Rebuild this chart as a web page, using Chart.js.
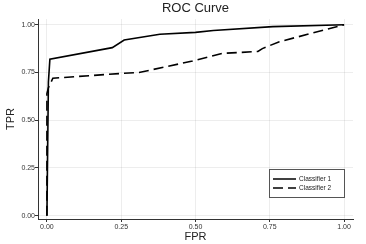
<!DOCTYPE html>
<html>
<head>
<meta charset="utf-8">
<script src="https://cdn.jsdelivr.net/npm/chart.js@4.4.1/dist/chart.umd.min.js"></script>
<style>
  html, body { margin: 0; padding: 0; background: #fff; }
  #wrap { width: 366px; height: 244px; }
</style>
</head>
<body>
<div id="wrap"><canvas id="roc" width="366" height="244"></canvas></div>
<script>
// values
const fpr1 = [0, 0.005, 0.01, 0.22, 0.26, 0.38, 0.5, 0.56, 0.76, 1.0];
const tpr1 = [0, 0.70, 0.82, 0.88, 0.92, 0.95, 0.96, 0.97, 0.99, 1.0];
const fpr2 = [0, 0, 0.005, 0.02, 0.25, 0.31, 0.49, 0.59, 0.71, 0.725, 0.78, 1.0];
const tpr2 = [0, 0.64, 0.67, 0.72, 0.745, 0.75, 0.81, 0.85, 0.86, 0.875, 0.91, 1.0];
const seriesNames = ['Classifier 1', 'Classifier 2'];
const tickValues = [0, 0.25, 0.5, 0.75, 1.0];
const chartTitle = 'ROC Curve';

const FONT = "'Liberation Sans', Arial, sans-serif";
const DASH = [10, 5];

function toPoints(xs, ys) {
  return xs.map((x, i) => ({ x: x, y: ys[i] }));
}

// title centred over the plot area + legend box inside it
const decorations = {
  id: 'decorations',
  afterDraw(chart) {
    const ctx = chart.ctx;
    const area = chart.chartArea;
    ctx.save();
    ctx.fillStyle = '#222';
    ctx.font = '13px ' + FONT;
    ctx.textAlign = 'center';
    ctx.textBaseline = 'middle';
    ctx.fillText(chartTitle, (area.left + area.right) / 2, 8);

    // legend
    const bx = area.right - 84, by = area.bottom - 50, bw = 75, bh = 28;
    ctx.fillStyle = '#fff';
    ctx.fillRect(bx, by, bw, bh);
    ctx.strokeStyle = '#555';
    ctx.lineWidth = 1;
    ctx.strokeRect(bx + 0.5, by + 0.5, bw, bh);
    ctx.font = '6.5px ' + FONT;
    ctx.textAlign = 'left';
    chart.data.datasets.forEach((ds, i) => {
      const y = by + 10 + i * 9;
      ctx.strokeStyle = '#000';
      ctx.lineWidth = 1.5;
      ctx.setLineDash(ds.borderDash || []);
      ctx.beginPath();
      ctx.moveTo(bx + 4, y);
      ctx.lineTo(bx + 27, y);
      ctx.stroke();
      ctx.setLineDash([]);
      ctx.fillStyle = '#222';
      ctx.fillText(ds.label, bx + 30, y);
    });
    ctx.restore();
  }
};

const fixedTicks = scale => {
  scale.ticks = tickValues.map(v => ({ value: v }));
};

new Chart(document.getElementById('roc'), {
  type: 'scatter',
  data: {
    datasets: [
      {
        label: seriesNames[0],
        data: toPoints(fpr1, tpr1),
        showLine: true,
        borderColor: '#000',
        borderWidth: 1.6,
        pointRadius: 0,
        tension: 0
      },
      {
        label: seriesNames[1],
        data: toPoints(fpr2, tpr2),
        showLine: true,
        borderColor: '#000',
        borderWidth: 1.6,
        borderDash: DASH,
        pointRadius: 0,
        tension: 0
      }
    ]
  },
  options: {
    responsive: false,
    animation: false,
    layout: { padding: { top: 19, right: 13, left: 0, bottom: 0 } },
    plugins: {
      legend: { display: false },
      tooltip: { enabled: false }
    },
    scales: {
      x: {
        type: 'linear',
        min: -0.03,
        max: 1.03,
        afterBuildTicks: fixedTicks,
        afterFit: scale => { scale.height = 25; },
        grid: { color: 'rgba(0,0,0,0.07)', tickColor: '#333', tickLength: 3 },
        border: { color: '#333', width: 1 },
        ticks: {
          padding: 1,
          maxRotation: 0,
          color: '#333',
          font: { family: FONT, size: 7 },
          callback: v => v.toFixed(2)
        },
        title: {
          display: true,
          text: 'FPR',
          color: '#222',
          font: { family: FONT, size: 11 },
          padding: { top: 0, bottom: 0 }
        }
      },
      y: {
        type: 'linear',
        min: -0.017,
        max: 1.03,
        afterBuildTicks: fixedTicks,
        afterFit: scale => { scale.width = 38; },
        grid: { color: 'rgba(0,0,0,0.07)', tickColor: '#333', tickLength: 3 },
        border: { color: '#333', width: 1 },
        ticks: {
          padding: 0,
          color: '#333',
          font: { family: FONT, size: 7 },
          callback: v => v.toFixed(2)
        },
        title: {
          display: true,
          text: 'TPR',
          color: '#222',
          font: { family: FONT, size: 11 },
          padding: { top: 4, bottom: 0 }
        }
      }
    }
  },
  plugins: [decorations]
});
</script>
</body>
</html>
